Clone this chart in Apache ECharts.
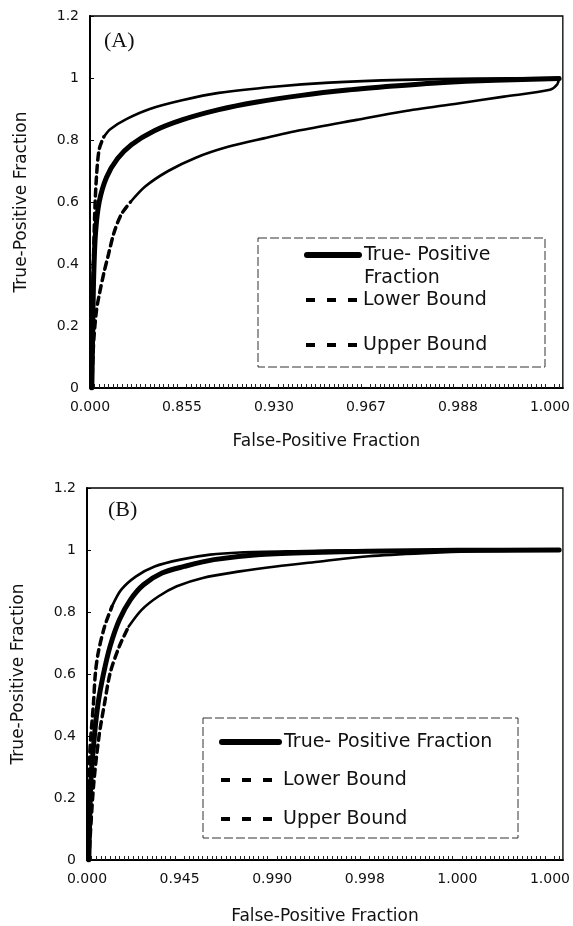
<!DOCTYPE html>
<html><head><meta charset="utf-8">
<script src="https://cdn.jsdelivr.net/npm/echarts@6/dist/echarts.min.js"></script>
<style>html,body{margin:0;padding:0;background:#fff}#c{width:573px;height:926px}</style>
</head><body><div id="c"></div>
<script>
// Tick labels (x positions are tick indices of the original non-linear axis)
const xTickLabelsA = ['0.000','0.855','0.930','0.967','0.988','1.000'];
const xTickLabelsB = ['0.000','0.945','0.990','0.998','1.000','1.000'];
const yTickLabels = ['0','0.2','0.4','0.6','0.8','1','1.2'];
const seriesNames = ['True- Positive Fraction','Lower Bound','Upper Bound'];
const panelLabels = ['(A)','(B)'];
const xTitle = 'False-Positive Fraction';
const yTitle = 'True-Positive Fraction';

// Panel A curves: [x tick-index position, true-positive fraction]
const tpfA = [[0.02,0],[0.03,0.2],[0.04,0.36],[0.06,0.5],[0.1,0.6],[0.18,0.68],[0.3,0.74],[0.45,0.785],[0.7,0.83],[1.0,0.865],[1.4,0.898],[1.8,0.922],[2.3,0.944],[2.8,0.961],[3.3,0.974],[3.8,0.985],[4.4,0.993],[5.1,0.998]];
const upperA = [[0.02,0],[0.03,0.3],[0.05,0.55],[0.07,0.68],[0.1,0.77],[0.15,0.81],[0.22,0.835],[0.4,0.868],[0.65,0.9],[1.0,0.928],[1.4,0.952],[2.0,0.972],[2.6,0.985],[3.4,0.994],[4.2,0.998],[5.1,1.0]];
const lowerA = [[0.02,0],[0.04,0.15],[0.07,0.25],[0.1,0.3],[0.15,0.37],[0.2,0.43],[0.26,0.5],[0.34,0.56],[0.44,0.6],[0.6,0.65],[0.85,0.7],[1.15,0.743],[1.5,0.778],[1.9,0.806],[2.3,0.832],[2.9,0.865],[3.4,0.892],[4.0,0.918],[4.5,0.94],[5.0,0.962],[5.08,0.98],[5.1,1.0]];
const upperADashEnd = 5;
const lowerADashEnd = 8;

// Panel B curves
const tpfB = [[0.02,0],[0.04,0.24],[0.08,0.4],[0.12,0.506],[0.18,0.603],[0.25,0.69],[0.35,0.775],[0.47,0.84],[0.61,0.888],[0.81,0.926],[1.05,0.947],[1.37,0.969],[1.84,0.985],[2.44,0.992],[3.04,0.996],[4.0,0.999],[5.1,1.0]];
const upperB = [[0.02,0],[0.03,0.34],[0.07,0.506],[0.09,0.6],[0.12,0.667],[0.19,0.753],[0.27,0.818],[0.37,0.872],[0.53,0.915],[0.73,0.947],[1.01,0.969],[1.33,0.985],[1.65,0.992],[2.24,0.996],[3.0,0.999],[5.1,1.0]];
const lowerB = [[0.02,0],[0.07,0.237],[0.13,0.4],[0.19,0.506],[0.25,0.603],[0.35,0.69],[0.45,0.753],[0.59,0.807],[0.77,0.85],[0.97,0.883],[1.25,0.91],[1.65,0.931],[2.04,0.947],[2.52,0.963],[3.04,0.98],[3.64,0.99],[4.24,0.996],[5.1,1.0]];
const upperBDashEnd = 6;
const lowerBDashEnd = 6;

const FONT = 'DejaVu Sans';
const INK = '#111';

function xAxisFor(gi, labels, nameGap) {
  return {
    type: 'value', gridIndex: gi, min: 0, max: 5.14, interval: 1,
    axisLine: { show: true, onZero: false, lineStyle: { color: '#000', width: 2 } },
    axisTick: { show: false, inside: true },
    minorTick: { show: true, splitNumber: 20, length: 4, lineStyle: { color: '#222', width: 1 } },
    splitLine: { show: false }, minorSplitLine: { show: false },
    axisLabel: {
      showMaxLabel: false, margin: 12, fontFamily: FONT, fontSize: 14, color: INK,
      formatter: v => (Math.abs(v - Math.round(v)) < 1e-6 && Math.round(v) < labels.length) ? labels[Math.round(v)] : ''
    },
    name: xTitle, nameLocation: 'middle', nameGap: nameGap,
    nameTextStyle: { fontFamily: FONT, fontSize: 17, color: INK }
  };
}
function yAxisFor(gi) {
  return {
    type: 'value', gridIndex: gi, min: 0, max: 1.2, interval: 0.2,
    axisLine: { show: true, onZero: false, lineStyle: { color: '#000', width: 2 } },
    axisTick: { show: true, inside: true, length: 4, lineStyle: { color: '#000' } },
    splitLine: { show: false },
    axisLabel: { margin: 11, fontFamily: FONT, fontSize: 14, color: INK,
      formatter: v => yTickLabels[Math.round(v / 0.2)] },
    name: yTitle, nameLocation: 'middle', nameGap: 60,
    nameTextStyle: { fontFamily: FONT, fontSize: 17, color: INK }
  };
}
function lineSeries(name, gi, data, width, dash) {
  return {
    name: name, type: 'line', xAxisIndex: gi, yAxisIndex: gi, data: data,
    symbol: 'none', smooth: 0.3, animation: false,
    lineStyle: { color: '#000', width: width, type: dash || 'solid', cap: 'round', join: 'round' }
  };
}
function boundSeries(name, gi, data, dashEnd) {
  return [
    lineSeries(name, gi, data.slice(0, dashEnd + 1), 3.5, [7, 5]),
    lineSeries(name, gi, data.slice(dashEnd), 2.6)
  ];
}

const series = [];
// dashed parts first so the legend picks their style
series.push(...boundSeries(seriesNames[1], 0, lowerA, lowerADashEnd));
series.push(...boundSeries(seriesNames[2], 0, upperA, upperADashEnd));
series.push(lineSeries(seriesNames[0], 0, tpfA, 5));
series.push(...boundSeries(seriesNames[1], 1, lowerB, lowerBDashEnd));
series.push(...boundSeries(seriesNames[2], 1, upperB, upperBDashEnd));
series.push(lineSeries(seriesNames[0], 1, tpfB, 5));

function legendItem(name, left, top, iw, solid, fmt) {
  return {
    data: [name], left: left, top: top, padding: 0, orient: 'vertical',
    itemWidth: iw, itemHeight: 14, selectedMode: false,
    itemStyle: { opacity: 0 },
    lineStyle: solid ? { width: 6, type: 'solid', cap: 'round', color: '#000' }
                     : { width: 4, type: [9, 12], cap: 'butt', color: '#000' },
    formatter: fmt || (n => n),
    textStyle: { fontFamily: FONT, fontSize: 19, lineHeight: 23, color: INK }
  };
}

const chart = echarts.init(document.getElementById('c'), null, { renderer: 'canvas' });
chart.setOption({
  animation: false,
  backgroundColor: '#fff',
  title: [
    { text: panelLabels[0], left: 104, top: 30, padding: 0,
      textStyle: { fontFamily: 'Liberation Serif', fontSize: 22, fontWeight: 'normal', color: INK } },
    { text: panelLabels[1], left: 108, top: 499, padding: 0,
      textStyle: { fontFamily: 'Liberation Serif', fontSize: 22, fontWeight: 'normal', color: INK } }
  ],
  grid: [
    { left: 90, top: 16, width: 475, height: 372, show: true, borderColor: '#000', borderWidth: 1.3, backgroundColor: 'transparent' },
    { left: 87, top: 488, width: 476, height: 372, show: true, borderColor: '#000', borderWidth: 1.3, backgroundColor: 'transparent' }
  ],
  xAxis: [xAxisFor(0, xTickLabelsA, 45), xAxisFor(1, xTickLabelsB, 48)],
  yAxis: [yAxisFor(0), yAxisFor(1)],
  legend: [
    legendItem(seriesNames[0], 304, 220.5, 52, true, () => '\nTrue- Positive\nFraction'),
    legendItem(seriesNames[1], 304, 288.5, 52, false),
    legendItem(seriesNames[2], 304, 333.5, 52, false),
    legendItem(seriesNames[0], 219, 730.5, 57, true),
    legendItem(seriesNames[1], 219, 768.5, 57, false),
    legendItem(seriesNames[2], 219, 807.5, 57, false)
  ],
  graphic: [
    { type: 'rect', shape: { x: 258, y: 238, width: 287, height: 129 },
      style: { fill: 'none', stroke: '#333', lineWidth: 1, lineDash: [9, 3] }, silent: true },
    { type: 'rect', shape: { x: 203, y: 718, width: 315, height: 120 },
      style: { fill: 'none', stroke: '#333', lineWidth: 1, lineDash: [9, 3] }, silent: true }
  ],
  series: series
});
</script></body></html>
